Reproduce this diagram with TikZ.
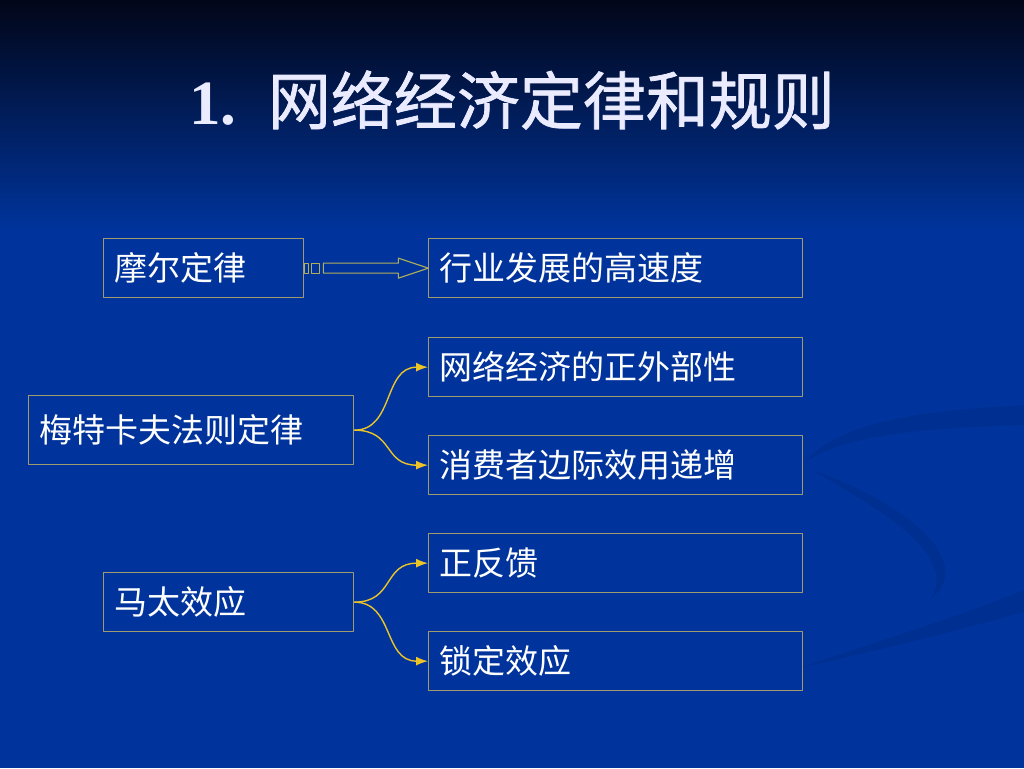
\documentclass[tikz,border=0pt]{standalone}
\usepackage{fontspec}
\newfontfamily\cjk{Noto Sans CJK SC}
\newfontfamily\cjktitle[FakeBold=1.2]{Noto Sans CJK SC}
\setmainfont{Liberation Serif}
\usetikzlibrary{positioning}
\usetikzlibrary{arrows.meta}
\definecolor{slideblue}{RGB}{0,52,156}
\definecolor{slidetop}{RGB}{2,6,24}
\definecolor{boxedge}{RGB}{160,154,112}
\definecolor{curlyyellow}{RGB}{236,196,40}
\definecolor{swirl}{RGB}{0,40,128}
\tikzset{lawbox/.style = {draw=boxedge, line width=1.3pt, anchor=north west,
                          minimum height=59pt, inner xsep=11pt,
                          text width=#1, align=left, text=white,
                          font=\cjk\fontsize{33}{36}\selectfont}}
\tikzset{curly/.style = {draw=curlyyellow, line width=1.4pt,
                         -{Latex[length=12pt,width=9pt]}}}
\tikzset{blockarrow/.style = {draw=boxedge!80!yellow, line width=1.1pt}}

\begin{document}
\begin{tikzpicture}[x=1pt, y=-1pt, line join=round]
  \useasboundingbox (0,0) rectangle (1024,768);
  % background
  \fill[slideblue] (0,0) rectangle (1024,768);
  \shade[top color=slidetop, bottom color=slideblue] (0,0) rectangle (1024,230);
  % faint swirl
  \begin{scope}[swirl, opacity=0.35]
    \fill (1024,405) .. controls (930,410) and (840,420) .. (805,462)
          .. controls (850,432) and (940,428) .. (1024,425) -- cycle;
    \fill (812,470) .. controls (900,500) and (980,560) .. (930,600)
          .. controls (960,555) and (880,510) .. (812,470) -- cycle;
    \fill (1024,590) .. controls (950,620) and (880,640) .. (800,668)
          .. controls (880,650) and (960,630) .. (1024,612) -- cycle;
  \end{scope}

  % title
  \node[text=white!92!blue] (title) at (512,100)
    {\fontsize{63}{68}\selectfont \textbf{1.}\ \ {\cjktitle 网络经济定律和规则}};

  % left column
  \node[lawbox=178pt] (moore) at (103,238) {摩尔定律};
  \node[lawbox=303pt, minimum height=69pt] (metcalfe) at (28,395) {梅特卡夫法则定律};
  \node[lawbox=228pt] (matthew) at (103,572) {马太效应};

  % right column
  \node[lawbox=352pt] (speed) at (428,238) {行业发展的高速度};
  \node[lawbox=352pt] (extern) at (428,337) {网络经济的正外部性};
  \node[lawbox=352pt] (margin) at (428,435) {消费者边际效用递增};
  \node[lawbox=352pt] (feedback) at (428,533) {正反馈};
  \node[lawbox=352pt] (lockin) at (428,631) {锁定效应};

  % block arrow
  \begin{scope}[shift={(moore.east)}]
    \draw[blockarrow] (0,-5) rectangle (4,5);
    \draw[blockarrow] (7,-5) rectangle (15,5);
    \draw[blockarrow] (19,-5) -- (94,-5) -- (94,-10) -- (124,0)
                      -- (94,10) -- (94,5) -- (19,5) -- cycle;
  \end{scope}

  % braces
  \draw[curly] (metcalfe.east) .. controls +(40,0) and +(-45,0) .. (extern.west);
  \draw[curly] (metcalfe.east) .. controls +(40,0) and +(-45,0) .. (margin.west);
  \draw[curly] (matthew.east) .. controls +(40,0) and +(-45,0) .. (feedback.west);
  \draw[curly] (matthew.east) .. controls +(40,0) and +(-45,0) .. (lockin.west);
\end{tikzpicture}
\end{document}
